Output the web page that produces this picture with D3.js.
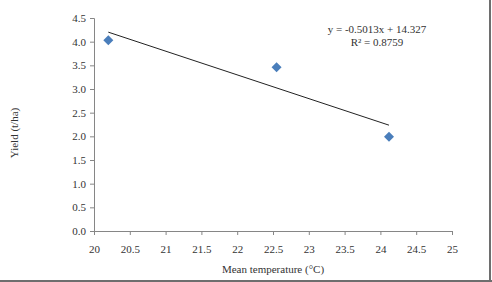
<!DOCTYPE html>
<html lang="en">
    <head>
        <meta charset="utf-8">
        <title>Yield vs Mean temperature</title>
        <script type="text/javascript" src="https://d3js.org/d3.v7.min.js"></script>
        <style type="text/css">
            body { margin: 0; background: #fff; }
            text { font-family: "Liberation Serif", "DejaVu Serif", serif; }
        </style>
    </head>
    <body>
        <script type="text/javascript">

        //Data
        const temps = [20.2, 22.55, 24.12];
        const yields = [4.03, 3.46, 1.99];
        const xTicks = [20, 20.5, 21, 21.5, 22, 22.5, 23, 23.5, 24, 24.5, 25];
        const yTicks = [0, 0.5, 1, 1.5, 2, 2.5, 3, 3.5, 4, 4.5];
        const slope = -0.5013, intercept = 14.327, r2 = 0.8759;

        const width = 492;
        const height = 282;

        const xScale = d3.scaleLinear().domain([20, 25]).range([94, 452]);
        const yScale = d3.scaleLinear().domain([0, 4.5]).range([231, 18]);

        const svg = d3.select("body")
                    .append("svg")
                    .attr("width", width)
                    .attr("height", height);

        //frame edges (right and bottom)
        svg.append("line")
            .attr("x1", 490).attr("x2", 490).attr("y1", 0).attr("y2", 282)
            .attr("stroke", "#6e6e6e").attr("stroke-width", 2);
        svg.append("line")
            .attr("x1", 0).attr("x2", 492).attr("y1", 281).attr("y2", 281)
            .attr("stroke", "#6e6e6e").attr("stroke-width", 2);

        //Axes
        const bottomAxis = d3.axisBottom(xScale)
                             .tickValues(xTicks)
                             .tickSize(4)
                             .tickPadding(10)
                             .tickFormat(d => d);
        const gx = svg.append("g")
            .attr("transform", "translate(0," + yScale(0) + ")")
            .call(bottomAxis);

        const leftAxis = d3.axisLeft(yScale)
                           .tickValues(yTicks)
                           .tickSize(4)
                           .tickPadding(4)
                           .tickFormat(d3.format(".1f"));
        const gy = svg.append("g")
            .attr("transform", "translate(" + xScale(20) + ",0)")
            .call(leftAxis);

        [gx, gy].forEach(g => {
            g.select(".domain").attr("stroke", "#868686");
            g.selectAll(".tick line").attr("stroke", "#868686");
            g.selectAll(".tick text")
                .attr("font-family", "Liberation Serif")
                .attr("font-size", "11px")
                .attr("fill", "#333");
        });

        //Trendline
        const x0 = d3.min(temps), x1 = d3.max(temps);
        svg.append("line")
            .attr("x1", xScale(x0)).attr("y1", yScale(slope * x0 + intercept))
            .attr("x2", xScale(x1)).attr("y2", yScale(slope * x1 + intercept))
            .attr("stroke", "#222")
            .attr("stroke-width", 1);

        //Points
        svg.selectAll("path.pt")
            .data(temps)
            .enter()
            .append("path")
            .attr("class", "pt")
            .attr("d", d3.symbol().type(d3.symbolSquare).size(50))
            .attr("transform", (d, i) => "translate(" + xScale(d) + "," + yScale(yields[i]) + ") rotate(45)")
            .attr("fill", "#4a7ebb");

        //Equation
        svg.append("text")
            .attr("x", 377).attr("y", 33)
            .attr("text-anchor", "middle")
            .attr("font-size", "11px")
            .attr("fill", "#333")
            .text("y = " + slope + "x + " + intercept);
        svg.append("text")
            .attr("x", 377).attr("y", 46)
            .attr("text-anchor", "middle")
            .attr("font-size", "11px")
            .attr("fill", "#333")
            .text("R² = " + r2);

        //Axis titles
        svg.append("text")
            .attr("transform", "translate(18,133) rotate(-90)")
            .attr("text-anchor", "middle")
            .attr("font-size", "11px")
            .attr("fill", "#333")
            .text("Yield (t/ha)");
        svg.append("text")
            .attr("x", 273).attr("y", 273)
            .attr("text-anchor", "middle")
            .attr("font-size", "11px")
            .attr("fill", "#333")
            .text("Mean temperature (°C)");

        </script>
    </body>
</html>
